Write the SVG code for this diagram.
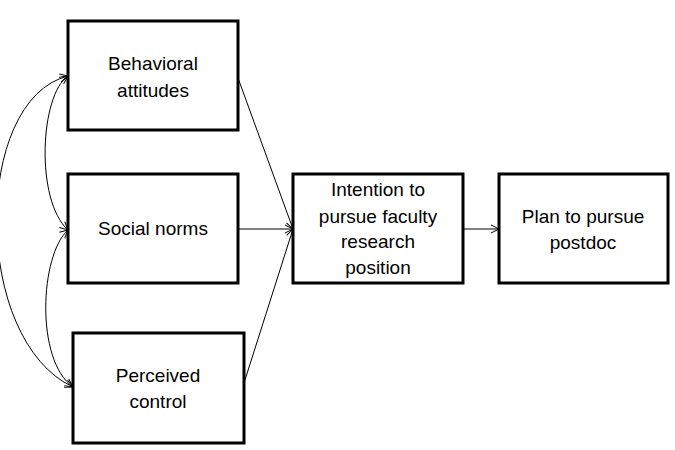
<svg xmlns="http://www.w3.org/2000/svg" width="675" height="450" viewBox="0 0 675 450">
<defs>
<style>
.box{fill:#fff;stroke:#000;stroke-width:3}
.lbl{font-family:"Liberation Sans",Arial,sans-serif;font-size:19px;fill:#000;text-anchor:middle}
.con{fill:none;stroke:#000;stroke-width:1}
</style>
<marker id="ah" viewBox="0 0 10 10" refX="9" refY="5" markerWidth="10" markerHeight="10" markerUnits="userSpaceOnUse" orient="auto-start-reverse">
<path d="M1,1 L9,5 L1,9" fill="none" stroke="#000" stroke-width="1"/>
</marker>
</defs>
<rect width="675" height="450" fill="#fff"/>
<g id="connectors">
<path class="con" d="M68,76 C-28,100 -28,340 73,387" marker-start="url(#ah)" marker-end="url(#ah)"/>
<path class="con" d="M68,76 C40,95 35,200 68,230" marker-start="url(#ah)" marker-end="url(#ah)"/>
<path class="con" d="M68,230 C40,255 35,360 73,387" marker-start="url(#ah)" marker-end="url(#ah)"/>
<path class="con" d="M238,78 L293,229" marker-end="url(#ah)"/>
<path class="con" d="M238,229 L293,229" marker-end="url(#ah)"/>
<path class="con" d="M244,383 L293,229" marker-end="url(#ah)"/>
<path class="con" d="M463,229 L499,229" marker-end="url(#ah)"/>
</g>
<g id="behavioral">
<rect class="box" x="68" y="21" width="170" height="109"/>
<text class="lbl" x="153" y="70">Behavioral</text>
<text class="lbl" x="153" y="97">attitudes</text>
</g>
<g id="social">
<rect class="box" x="68" y="174" width="170" height="109"/>
<text class="lbl" x="153" y="235">Social norms</text>
</g>
<g id="perceived">
<rect class="box" x="73" y="333" width="171" height="110"/>
<text class="lbl" x="158" y="382">Perceived</text>
<text class="lbl" x="158" y="408">control</text>
</g>
<g id="intention">
<rect class="box" x="293" y="174" width="170" height="109"/>
<text class="lbl" x="378" y="196">Intention to</text>
<text class="lbl" x="378" y="223">pursue faculty</text>
<text class="lbl" x="378" y="248">research</text>
<text class="lbl" x="378" y="274">position</text>
</g>
<g id="plan">
<rect class="box" x="499" y="174" width="169" height="109"/>
<text class="lbl" x="583" y="223">Plan to pursue</text>
<text class="lbl" x="583" y="249">postdoc</text>
</g>
</svg>
